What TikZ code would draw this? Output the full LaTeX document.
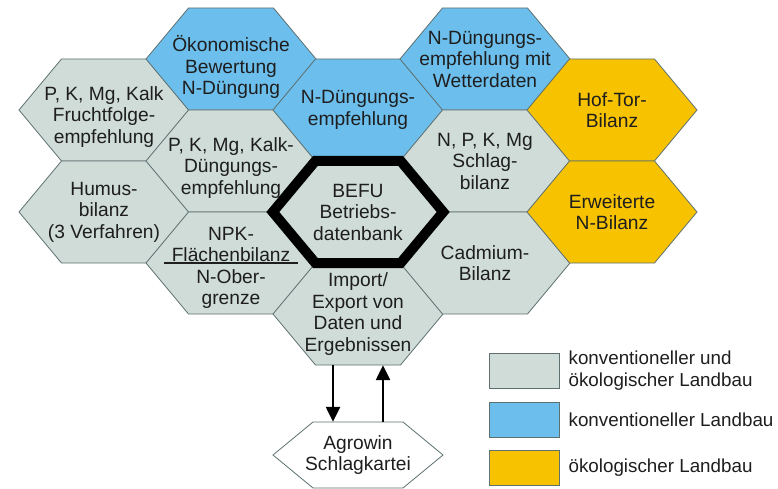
\documentclass[tikz,border=0pt]{standalone}
\usepackage{fontspec}
\setmainfont{Liberation Sans}
\usetikzlibrary{arrows.meta,positioning}
\definecolor{cellGray}{HTML}{CFDCD8}
\definecolor{cellBlue}{HTML}{6CBEEC}
\definecolor{cellOrange}{HTML}{F7C200}
\definecolor{cellEdge}{HTML}{5E7070}
\definecolor{textDark}{HTML}{1E1E1E}

% one hexagon cell: [text drop], name, centre, fill style, text
\newcommand{\hexCell}[5][0]{%
  \filldraw[#4] (#3) ++(-85,0) -- ++(42.5,-51) -- ++(85,0) -- ++(42.5,51) -- ++(-42.5,51) -- ++(-85,0) -- cycle;
  \node[cellText, yshift=-#1pt] (#2) at (#3) {#5};
}

\begin{document}
\begin{tikzpicture}[x=1pt, y=-1pt,
    hexGray/.style={fill=cellGray, draw=cellEdge, line width=0.8pt},
    hexBlue/.style={fill=cellBlue, draw=cellEdge, line width=0.8pt},
    hexOrange/.style={fill=cellOrange, draw=cellEdge, line width=0.8pt},
    cellText/.style={rectangle, minimum width=170pt, minimum height=102pt, inner sep=0pt, align=center, font=\fontsize{19.2}{21.5}\selectfont, text=textDark},
    befuRim/.style={draw=black, line width=10pt, line join=miter},
    flow/.style={-{Triangle[length=15pt,width=14pt]}, line width=2.4pt, draw=black},
    legendBox/.style={rectangle, minimum width=70pt, minimum height=35pt, inner sep=0pt, draw=cellEdge, line width=0.8pt},
    legendText/.style={anchor=west, align=left, inner sep=0pt, font=\fontsize{18.8}{22}\selectfont, text=textDark}
  ]
  \useasboundingbox (0,0) rectangle (778,489);

  % left columns
  \hexCell[7]{frucht}{104,110}{hexGray}{P, K, Mg, Kalk\\Fruchtfolge-\\empfehlung}
  \hexCell{humus}{104,212}{hexGray}{Humus-\\bilanz\\(3 Verfahren)}
  \hexCell[8]{oekon}{231,59}{hexBlue}{Ökonomische\\Bewertung\\N-Düngung}
  \hexCell[7]{pkdung}{231,161}{hexGray}{P, K, Mg, Kalk-\\Düngungs-\\empfehlung}
  \hexCell[5]{npk}{231,263}{hexGray}{NPK-\\Flächenbilanz\\N-Ober-\\grenze}

  % middle column
  \hexCell{ndung}{358,110}{hexBlue}{N-Düngungs-\\empfehlung}
  \hexCell{befu}{358,212}{hexGray}{BEFU\\Betriebs-\\datenbank}
  \hexCell{imp}{358,314}{hexGray}{Import/\\Export von\\Daten und\\Ergebnissen}

  % right columns
  \hexCell{nwetter}{485,59}{hexBlue}{N-Düngungs-\\empfehlung mit\\Wetterdaten}
  \hexCell{schlag}{485,161}{hexGray}{N, P, K, Mg\\Schlag-\\bilanz}
  \hexCell{cadm}{485,263}{hexGray}{Cadmium-\\Bilanz}
  \hexCell{hoftor}{612,110}{hexOrange}{Hof-Tor-\\Bilanz}
  \hexCell{erw}{612,212}{hexOrange}{Erweiterte\\N-Bilanz}

  % thick rim of the database
  \draw[befuRim] (befu.west) -- ([xshift=-42.5pt]befu.north) -- ([xshift=42.5pt]befu.north)
    -- (befu.east) -- ([xshift=42.5pt]befu.south) -- ([xshift=-42.5pt]befu.south) -- cycle;

  % rule in the NPK cell
  \draw[line width=1.6pt, textDark] ([xshift=-67pt, yshift=5pt]npk.center) -- ([xshift=67pt, yshift=5pt]npk.center);

  % Agrowin
  \filldraw[fill=white, draw=cellEdge, line width=0.8pt] (358,455) ++(-85,0) -- ++(40,-33) -- ++(90,0)
    -- ++(40,33) -- ++(-40,33) -- ++(-90,0) -- cycle;
  \node[cellText, minimum height=66pt] (agro) at (358,455) {Agrowin\\Schlagkartei};

  \draw[flow] ([xshift=-25pt]imp.south) -- ([xshift=-25pt]agro.north);
  \draw[flow] ([xshift=25pt]agro.north) -- ([xshift=25pt]imp.south);

  % legend
  \node[legendBox, fill=cellGray] (legGray) at (524,370.5) {};
  \node[legendBox, fill=cellBlue] (legBlue) at (524,419.5) {};
  \node[legendBox, fill=cellOrange] (legOrange) at (524,467.5) {};
  \node[legendText, right=9pt of legGray] {konventioneller und\\ökologischer Landbau};
  \node[legendText, right=9pt of legBlue] {konventioneller Landbau};
  \node[legendText, right=9pt of legOrange] {ökologischer Landbau};
\end{tikzpicture}
\end{document}
